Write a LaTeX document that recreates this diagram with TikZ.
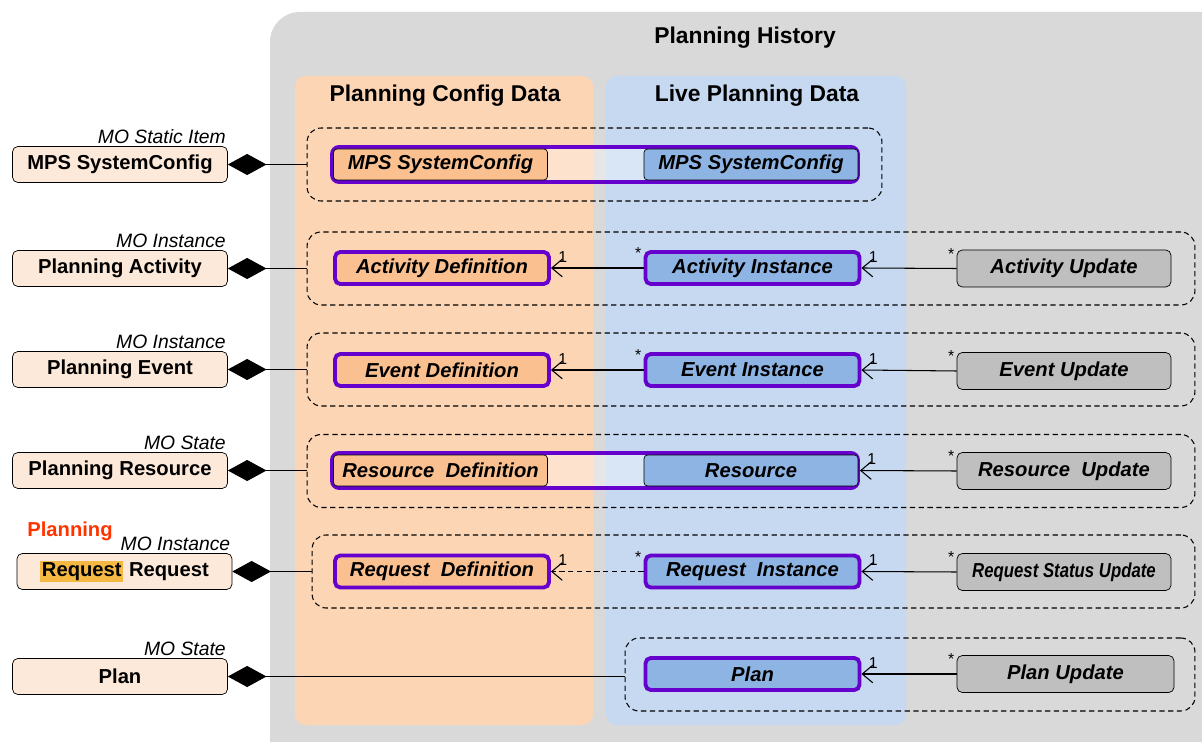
\documentclass[tikz,border=0pt]{standalone}
\usepackage{fontspec}
\setmainfont{Liberation Sans}
\usetikzlibrary{positioning}
\usetikzlibrary{arrows.meta}
\definecolor{histgrey}{HTML}{D9D9D9}
\definecolor{cfgpanel}{HTML}{FCD5B5}
\definecolor{livepanel}{HTML}{C6D9F1}
\definecolor{cfgfill}{HTML}{FAC090}
\definecolor{livefill}{HTML}{8EB4E3}
\definecolor{updfill}{HTML}{BFBFBF}
\definecolor{mofill}{HTML}{FDE9D9}
\definecolor{linkpurple}{HTML}{6600CC}
\definecolor{hlorange}{HTML}{F5B943}
\definecolor{planred}{HTML}{FF3300}

\begin{document}
\begin{tikzpicture}[x=0.02cm, y=-0.02cm,
  title/.style={font=\fontsize{13}{15}\selectfont\bfseries},
  mobox/.style={draw, rounded corners=3pt, fill=mofill, minimum width=4.3cm, minimum height=0.72cm, inner sep=0pt, font=\fontsize{11.5}{13}\selectfont\bfseries},
  molabel/.style={anchor=south east, inner sep=1pt, font=\fontsize{11}{13}\selectfont\itshape},
  grp/.style={draw, line width=0.6pt, dash pattern=on 3pt off 2pt, rounded corners=8pt, inner sep=0pt, minimum height=1.46cm},
  cls/.style={rounded corners=3pt, minimum width=4.28cm, minimum height=0.64cm, inner sep=0pt, font=\fontsize{11.5}{13}\selectfont\bfseries\itshape},
  defbox/.style={cls, draw=linkpurple, line width=2.2pt, fill=cfgfill},
  instbox/.style={cls, draw=linkpurple, line width=2.2pt, fill=livefill},
  updbox/.style={cls, draw, fill=updfill, minimum height=0.74cm},
  pairbox/.style={draw=linkpurple, line width=2.2pt, rounded corners=4pt, fill=white, fill opacity=0.35, minimum width=10.52cm, minimum height=0.7cm, inner sep=0pt},
  subbox/.style={cls, draw, rounded corners=2pt, minimum width=4.28cm, minimum height=0.62cm},
  comp/.style={{Diamond[length=22pt,width=12pt]}-, line width=0.6pt},
  assoc/.style={-{Straight Barb[length=6pt,width=10pt]}, line width=0.6pt},
  mult/.style={inner sep=1pt, font=\fontsize{9}{10}\selectfont}
]
\useasboundingbox (0,0) rectangle (1202,742);

% panels
\fill[histgrey, rounded corners=17pt] (270,12) rectangle (1240,790);
\fill[cfgpanel, rounded corners=6pt] (295,76) rectangle (593,725);
\fill[livepanel, rounded corners=6pt] (606,76) rectangle (906,725);

\node[title] (histtitle) at (745,38) {Planning History};
\node[title] (cfgtitle) at (445,96) {Planning Config Data};
\node[title] (livetitle) at (757,96) {Live Planning Data};

% dashed groups
\node[grp, minimum width=11.5cm] (gcfg) at (594.5,164.5) {};
\node[grp, minimum width=17.76cm] (gact) at (751,268.5) {};
\node[grp, minimum width=17.76cm] (gevt) at (751,369.5) {};
\node[grp, minimum width=17.76cm] (gres) at (751,471) {};
\node[grp, minimum width=17.66cm] (greq) at (753.5,571.5) {};
\node[grp, minimum width=11.4cm] (gplan) at (910,674.5) {};

% MO boxes on the left
\node[mobox] (cfgmo) at (120,164.5) {MPS SystemConfig};
\node[mobox] (actmo) at (120,268.5) {Planning Activity};
\node[mobox] (evtmo) at (120,369.5) {Planning Event};
\node[mobox] (resmo) at (120,470.5) {Planning Resource};
\node[mobox] (reqmo) at (124.5,571.5) {\setlength{\fboxsep}{1pt}\colorbox{hlorange}{Request} Request};
\node[mobox] (planmo) at (120,676.5) {Plan};

\node[molabel] (cfglbl) at (cfgmo.north east) {MO Static Item};
\node[molabel] (actlbl) at (actmo.north east) {MO Instance};
\node[molabel] (evtlbl) at (evtmo.north east) {MO Instance};
\node[molabel] (reslbl) at (resmo.north east) {MO State};
\node[molabel] (reqlbl) at (reqmo.north east) {MO Instance};
\node[molabel] (planlbl) at (planmo.north east) {MO State};
\node[font=\fontsize{11.5}{13}\selectfont\bfseries, text=planred] (reqred) at (70,531) {Planning};

% row 1
\node[pairbox] (cfgpair) at (595,164.5) {};
\node[subbox, fill=cfgfill] (cfgdef) at (440.5,164.5) {MPS SystemConfig};
\node[subbox, fill=livefill] (cfglive) at (751,164.5) {MPS SystemConfig};

% row 2
\node[defbox] (actdef) at (442,268) {Activity Definition};
\node[instbox] (actinst) at (752.5,268) {Activity Instance};
\node[updbox] (actupd) at (1064,268.5) {Activity Update};

% row 3
\node[defbox] (evtdef) at (442,370) {Event Definition};
\node[instbox] (evtinst) at (752.5,370) {Event Instance};
\node[updbox] (evtupd) at (1064,371) {Event Update};

% row 4
\node[pairbox] (respair) at (595,470.5) {};
\node[subbox, fill=cfgfill] (resdef) at (440.5,470.5) {Resource\ \ Definition};
\node[subbox, fill=livefill] (reslive) at (751,470.5) {Resource};
\node[updbox] (resupd) at (1064,471) {Resource\ \ Update};

% row 5
\node[defbox] (reqdef) at (442,571.5) {Request\ \ Definition};
\node[instbox] (reqinst) at (752.5,571.5) {Request\ \ Instance};
\node[updbox] (requpd) at (1064,572) {\scalebox{0.83}[1]{Request Status Update}};

% row 6
\node[instbox] (plan) at (752.5,674) {Plan};
\node[updbox, minimum width=4.34cm] (planupd) at (1065.5,674) {Plan Update};

% compositions
\draw[comp] (cfgmo.east) -- (cfgmo.east -| gcfg.west);
\draw[comp] (actmo.east) -- (actmo.east -| gact.west);
\draw[comp] (evtmo.east) -- (evtmo.east -| gevt.west);
\draw[comp] (resmo.east) -- (resmo.east -| gres.west);
\draw[comp] (reqmo.east) -- (reqmo.east -| greq.west);
\draw[comp] (planmo.east) -- (planmo.east -| gplan.west);

% associations
\draw[assoc] (actinst.west) -- (actdef.east)
  node[mult, pos=1, anchor=south west, xshift=3pt, yshift=2pt] (m1) {1}
  node[mult, pos=0, anchor=south east, yshift=4pt] (s1) {*};
\draw[assoc] (actupd.west) -- (actinst.east)
  node[mult, pos=1, anchor=south west, xshift=3pt, yshift=2pt] (m2) {1}
  node[mult, pos=0, anchor=south east, yshift=4pt] (s2) {*};
\draw[assoc] (evtinst.west) -- (evtdef.east)
  node[mult, pos=1, anchor=south west, xshift=3pt, yshift=2pt] (m3) {1}
  node[mult, pos=0, anchor=south east, yshift=4pt] (s3) {*};
\draw[assoc] (evtupd.west) -- (evtinst.east)
  node[mult, pos=1, anchor=south west, xshift=3pt, yshift=2pt] (m4) {1}
  node[mult, pos=0, anchor=south east, yshift=4pt] (s4) {*};
\draw[assoc] (resupd.west) -- (respair.east)
  node[mult, pos=1, anchor=south west, xshift=3pt, yshift=2pt] (m5) {1}
  node[mult, pos=0, anchor=south east, yshift=4pt] (s5) {*};
\draw[assoc, densely dashed] (reqinst.west) -- (reqdef.east)
  node[mult, pos=1, anchor=south west, xshift=3pt, yshift=2pt] (m6) {1}
  node[mult, pos=0, anchor=south east, yshift=4pt] (s6) {*};
\draw[assoc] (requpd.west) -- (reqinst.east)
  node[mult, pos=1, anchor=south west, xshift=3pt, yshift=2pt] (m7) {1}
  node[mult, pos=0, anchor=south east, yshift=4pt] (s7) {*};
\draw[assoc] (planupd.west) -- (plan.east)
  node[mult, pos=1, anchor=south west, xshift=3pt, yshift=2pt] (m8) {1}
  node[mult, pos=0, anchor=south east, yshift=4pt] (s8) {*};

\end{tikzpicture}
\end{document}
